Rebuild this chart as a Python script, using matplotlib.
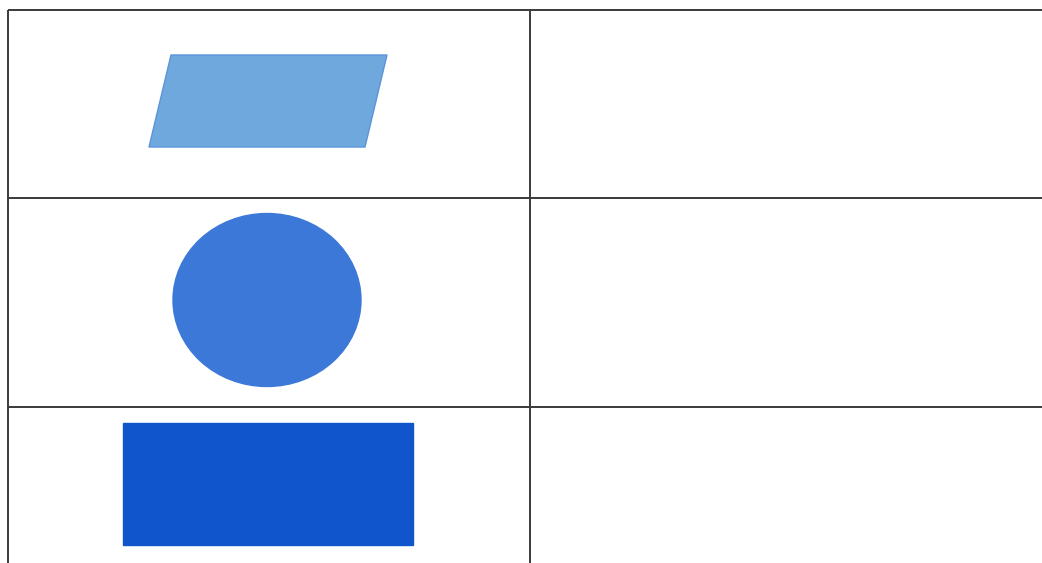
import matplotlib.pyplot as plt
from matplotlib.patches import Polygon, Ellipse, Rectangle

# table contents: one shape per row in the left column, right column empty
shapes = ['parallelogram', 'ellipse', 'rectangle']
fills = ['#6fa8dc', '#3c78d8', '#1155cc']
edges = ['#5b94dc', '#3c78d8', '#1155cc']

W, H = 1042, 563
fig = plt.figure(figsize=(W / 100, H / 100), dpi=100)
ax = fig.add_axes([0, 0, 1, 1])
ax.set_xlim(0, W)
ax.set_ylim(H, 0)
ax.axis('off')

# grid lines of the table (cropped on the right and bottom)
line_kw = dict(color='#3a3a3a', linewidth=1.4, solid_capstyle='butt')
ax.plot([8, W], [10, 10], **line_kw)
ax.plot([8, W], [198, 198], **line_kw)
ax.plot([8, W], [407, 407], **line_kw)
ax.plot([8, 8], [10, H], **line_kw)
ax.plot([530, 530], [10, H], **line_kw)

for name, fc, ec in zip(shapes, fills, edges):
    if name == 'parallelogram':
        patch = Polygon([(171, 55), (387, 55), (365, 147), (149, 147)], closed=True)
    elif name == 'ellipse':
        patch = Ellipse((267, 300), 188, 173)
    else:
        patch = Rectangle((123, 423), 290, 122)
    patch.set_facecolor(fc)
    patch.set_edgecolor(ec)
    patch.set_linewidth(1)
    ax.add_patch(patch)

fig.savefig('out.png', dpi=100)
